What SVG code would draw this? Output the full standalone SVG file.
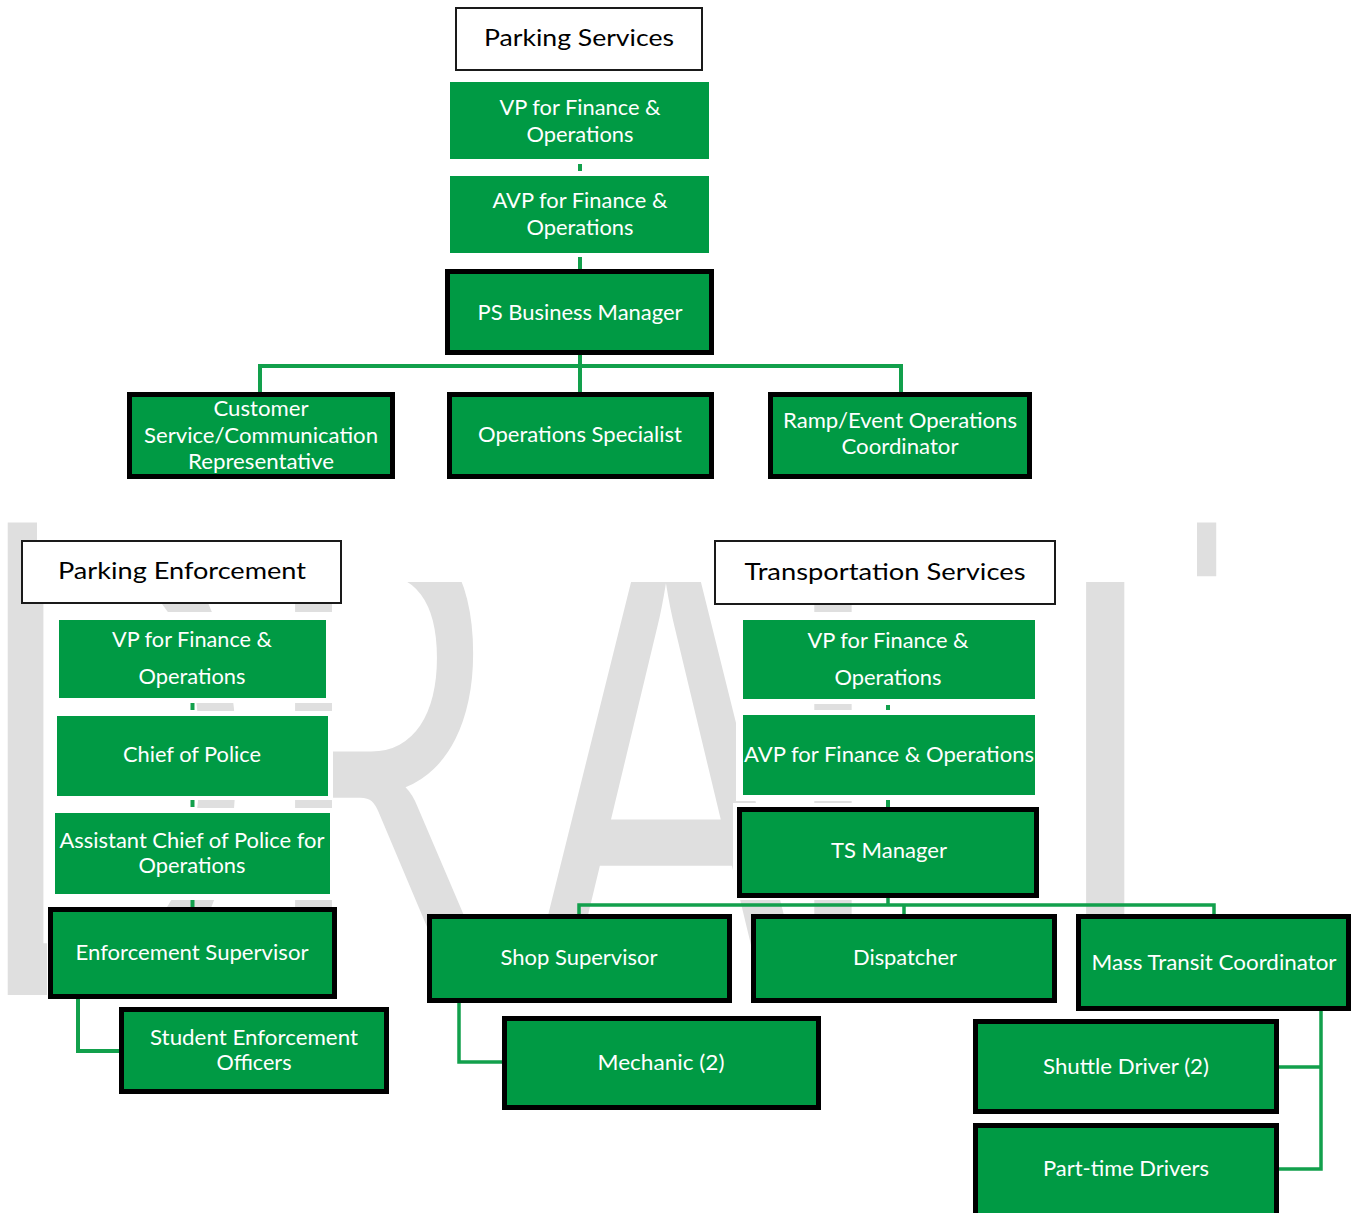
<svg xmlns="http://www.w3.org/2000/svg" width="1352" height="1213" viewBox="0 0 1352 1213">
<style>
.bx{fill:#009a44}
.bd{fill:#009a44;stroke:#000;stroke-width:5}
.hd{fill:#fff;stroke:#1a1a1a;stroke-width:2}
.t{font-family:Lato,"Open Sans","Liberation Sans",sans-serif;font-size:21px;fill:#fff;text-anchor:middle}
.h{font-family:Lato,"Open Sans","Liberation Sans",sans-serif;font-size:24px;fill:#000;text-anchor:middle}
.c{fill:none;stroke:#12a04c;stroke-width:4}
.c3{fill:none;stroke:#12a04c;stroke-width:3.5}
.wm{font-family:Lato,"Liberation Sans",sans-serif;font-size:471px;fill:#dfdfdf}
.oc{fill:#fff}
</style>
<rect x="0" y="0" width="1352" height="1213" fill="#fff"/>
<g id="watermark">
  <g transform="translate(0,995) scale(1,1.4)">
    <text class="wm" x="-26" y="0" textLength="280" lengthAdjust="spacingAndGlyphs">D</text>
    <text class="wm" x="260" y="0" textLength="240" lengthAdjust="spacingAndGlyphs">R</text>
    <text class="wm" x="527" y="0" textLength="278" lengthAdjust="spacingAndGlyphs">A</text>
    <text class="wm" x="779" y="0" textLength="218" lengthAdjust="spacingAndGlyphs">F</text>
    <text class="wm" x="988" y="0" textLength="234" lengthAdjust="spacingAndGlyphs">T</text>
  </g>
  <rect class="oc" x="37" y="0" width="1160" height="582"/>
  <rect class="oc" x="47" y="612" width="286" height="91"/>
  <rect class="oc" x="47" y="711" width="286" height="89"/>
  <rect class="oc" x="47" y="808" width="286" height="92"/>
  <rect class="oc" x="47" y="907" width="290" height="93"/>
  <rect class="oc" x="736" y="612" width="305" height="92"/>
  <rect class="oc" x="736" y="710" width="305" height="91"/>
  <rect class="oc" x="733" y="803" width="311" height="97"/>
</g>
<g id="connectors">
  <line class="c" x1="580" y1="164" x2="580" y2="171"/>
  <line class="c" x1="580" y1="257" x2="580" y2="270"/>
  <path class="c" d="M580,354 V393 M260,393 V366 H901 V393"/>
  <line class="c" x1="192.5" y1="703" x2="192.5" y2="710"/>
  <line class="c" x1="192.5" y1="800" x2="192.5" y2="807"/>
  <line class="c" x1="192.5" y1="900" x2="192.5" y2="908"/>
  <path class="c" d="M78,999 V1051 H121"/>
  <line class="c" x1="888" y1="705" x2="888" y2="710"/>
  <line class="c" x1="888" y1="800" x2="888" y2="808"/>
  <path class="c3" d="M888,897 V905 M579,916 V905 H1214 V916 M904,905 V916"/>
  <path class="c3" d="M459,1002 V1062 H503"/>
  <path class="c3" d="M1321,1010 V1169 H1278 M1278,1067 H1321"/>
</g>
<g id="ps-header"><rect class="hd" x="456" y="8" width="246" height="62"/><text class="h" x="579" y="46" textLength="190" lengthAdjust="spacingAndGlyphs">Parking Services</text></g>
<g id="ps-vp"><rect class="bx" x="450" y="82" width="259" height="77"/><text class="t" x="580" y="115" textLength="161" lengthAdjust="spacingAndGlyphs">VP for Finance &amp;</text><text class="t" x="580" y="142" textLength="107" lengthAdjust="spacingAndGlyphs">Operations</text></g>
<g id="ps-avp"><rect class="bx" x="450" y="176" width="259" height="77"/><text class="t" x="580" y="208" textLength="175" lengthAdjust="spacingAndGlyphs">AVP for Finance &amp;</text><text class="t" x="580" y="235" textLength="107" lengthAdjust="spacingAndGlyphs">Operations</text></g>
<g id="ps-manager"><rect class="bd" x="447.5" y="271.5" width="264" height="81"/><text class="t" x="580" y="320" textLength="205" lengthAdjust="spacingAndGlyphs">PS Business Manager</text></g>
<g id="ps-customer"><rect class="bd" x="129.5" y="394.5" width="263" height="82"/><text class="t" x="261" y="416" textLength="95" lengthAdjust="spacingAndGlyphs">Customer</text><text class="t" x="261" y="443" textLength="234" lengthAdjust="spacingAndGlyphs">Service/Communication</text><text class="t" x="261" y="469" textLength="146" lengthAdjust="spacingAndGlyphs">Representative</text></g>
<g id="ps-ops"><rect class="bd" x="449.5" y="394.5" width="262" height="82"/><text class="t" x="580" y="442" textLength="204" lengthAdjust="spacingAndGlyphs">Operations Specialist</text></g>
<g id="ps-ramp"><rect class="bd" x="770.5" y="394.5" width="259" height="82"/><text class="t" x="900" y="428" textLength="234" lengthAdjust="spacingAndGlyphs">Ramp/Event Operations</text><text class="t" x="900" y="454" textLength="117" lengthAdjust="spacingAndGlyphs">Coordinator</text></g>
<g id="pe-header"><rect class="hd" x="22" y="541" width="319" height="62"/><text class="h" x="182" y="579" textLength="248" lengthAdjust="spacingAndGlyphs">Parking Enforcement</text></g>
<g id="pe-vp"><rect class="bx" x="59" y="620" width="267" height="78"/><text class="t" x="192" y="647" textLength="160" lengthAdjust="spacingAndGlyphs">VP for Finance &amp;</text><text class="t" x="192" y="684" textLength="107" lengthAdjust="spacingAndGlyphs">Operations</text></g>
<g id="pe-chief"><rect class="bx" x="57" y="716" width="271" height="80"/><text class="t" x="192" y="762" textLength="138" lengthAdjust="spacingAndGlyphs">Chief of Police</text></g>
<g id="pe-asst"><rect class="bx" x="55" y="813" width="275" height="81"/><text class="t" x="192" y="848" textLength="265" lengthAdjust="spacingAndGlyphs">Assistant Chief of Police for</text><text class="t" x="192" y="873" textLength="107" lengthAdjust="spacingAndGlyphs">Operations</text></g>
<g id="pe-supervisor"><rect class="bd" x="50.5" y="909.5" width="284" height="87"/><text class="t" x="192" y="960" textLength="233" lengthAdjust="spacingAndGlyphs">Enforcement Supervisor</text></g>
<g id="pe-officers"><rect class="bd" x="121.5" y="1009.5" width="265" height="82"/><text class="t" x="254" y="1045" textLength="208" lengthAdjust="spacingAndGlyphs">Student Enforcement</text><text class="t" x="254" y="1070" textLength="75" lengthAdjust="spacingAndGlyphs">Officers</text></g>
<g id="ts-header"><rect class="hd" x="715" y="541" width="340" height="63"/><text class="h" x="885" y="580" textLength="281" lengthAdjust="spacingAndGlyphs">Transportation Services</text></g>
<g id="ts-vp"><rect class="bx" x="743" y="620" width="292" height="79"/><text class="t" x="888" y="648" textLength="161" lengthAdjust="spacingAndGlyphs">VP for Finance &amp;</text><text class="t" x="888" y="685" textLength="107" lengthAdjust="spacingAndGlyphs">Operations</text></g>
<g id="ts-avp"><rect class="bx" x="743" y="715" width="292" height="80"/><text class="t" x="889" y="762" textLength="290" lengthAdjust="spacingAndGlyphs">AVP for Finance &amp; Operations</text></g>
<g id="ts-manager"><rect class="bd" x="739.5" y="809.5" width="297" height="86"/><text class="t" x="889" y="858" textLength="116" lengthAdjust="spacingAndGlyphs">TS Manager</text></g>
<g id="ts-shop"><rect class="bd" x="429.5" y="916.5" width="300" height="84"/><text class="t" x="579" y="965" textLength="157" lengthAdjust="spacingAndGlyphs">Shop Supervisor</text></g>
<g id="ts-dispatcher"><rect class="bd" x="753.5" y="916.5" width="301" height="84"/><text class="t" x="905" y="965" textLength="104" lengthAdjust="spacingAndGlyphs">Dispatcher</text></g>
<g id="ts-mass"><rect class="bd" x="1078.5" y="916.5" width="270" height="92"/><text class="t" x="1214" y="970" textLength="245" lengthAdjust="spacingAndGlyphs">Mass Transit Coordinator</text></g>
<g id="ts-mechanic"><rect class="bd" x="504.5" y="1018.5" width="314" height="89"/><text class="t" x="661" y="1070" textLength="127" lengthAdjust="spacingAndGlyphs">Mechanic (2)</text></g>
<g id="ts-shuttle"><rect class="bd" x="975.5" y="1021.5" width="301" height="90"/><text class="t" x="1126" y="1074" textLength="166" lengthAdjust="spacingAndGlyphs">Shuttle Driver (2)</text></g>
<g id="ts-parttime"><rect class="bd" x="975.5" y="1125.5" width="301" height="92"/><text class="t" x="1126" y="1176" textLength="166" lengthAdjust="spacingAndGlyphs">Part-time Drivers</text></g>
</svg>
